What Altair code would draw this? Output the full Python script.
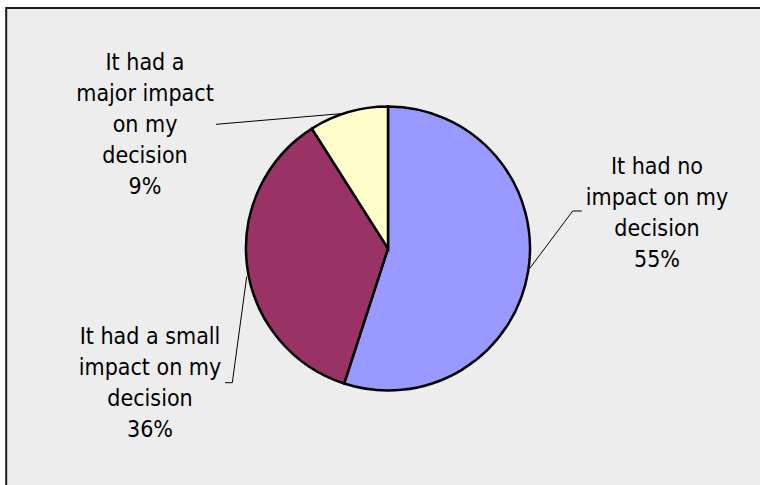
import altair as alt
import pandas as pd

# ---- data ----
categories = [
    "It had no impact on my decision",
    "It had a small impact on my decision",
    "It had a major impact on my decision",
]
values = [55, 36, 9]
colors = ["#9999FF", "#993366", "#FFFFCC"]

# ---- label layout (wrapped text, anchor in pixels) ----
label_lines = [
    ["It had no", "impact on my", "decision"],
    ["It had a small", "impact on my", "decision"],
    ["It had a", "major impact", "on my", "decision"],
]
label_x = [657, 150, 145]
label_y = [173.5, 344, 70]

leader_x = [[530, 572.7, 581.7], [246.7, 232.3, 225], [343, 216]]
leader_y = [[268, 211, 211], [276.7, 382.7, 382.7], [113.5, 124.3]]

W, H = 760, 485
CX, CY, R = 388, 248.5, 142
FONT = "DejaVu Sans Condensed"

pie_df = pd.DataFrame({"category": categories, "value": values, "idx": range(len(values))})

lab_df = pd.DataFrame({
    "text": ["\n".join(l + [f"{v}%"]) for l, v in zip(label_lines, values)],
    "lx": label_x,
    "ly": label_y,
})

rows = []
for i, (xs, ys) in enumerate(zip(leader_x, leader_y)):
    for j, (a, b) in enumerate(zip(xs, ys)):
        rows.append({"id": i, "k": j, "px": a, "py": b})
lead_df = pd.DataFrame(rows)

frame = alt.Chart(pd.DataFrame({"a": [0]})).mark_rect(
    fill="#EDEDED", stroke="#1a1a1a", strokeWidth=2
).encode(
    x=alt.value(6.2), x2=alt.value(W + 40), y=alt.value(8), y2=alt.value(H + 40)
)

pie = alt.Chart(pie_df).mark_arc(
    outerRadius=R, stroke="#000000", strokeWidth=2.5
).encode(
    theta=alt.Theta("value:Q", stack=True),
    color=alt.Color("category:N", scale=alt.Scale(domain=categories, range=colors), legend=None),
    order=alt.Order("idx:Q"),
    x=alt.value(CX),
    y=alt.value(CY),
)

leaders = alt.Chart(lead_df).mark_line(color="#000000", strokeWidth=1).encode(
    x=alt.X("px:Q", scale=None, axis=None),
    y=alt.Y("py:Q", scale=None, axis=None),
    detail="id:N",
    order="k:Q",
)

labels = alt.Chart(lab_df).mark_text(
    font=FONT, fontSize=23, color="#000000", align="center",
    baseline="alphabetic", lineBreak="\n", lineHeight=31
).encode(
    x=alt.X("lx:Q", scale=None, axis=None),
    y=alt.Y("ly:Q", scale=None, axis=None),
    text="text:N",
)

chart = alt.layer(frame, pie, leaders, labels).properties(
    width=W, height=H, padding=0, autosize="none", background="white"
).configure_view(stroke=None)

chart.save("out.html", embed_options={"renderer": "svg", "actions": False})
